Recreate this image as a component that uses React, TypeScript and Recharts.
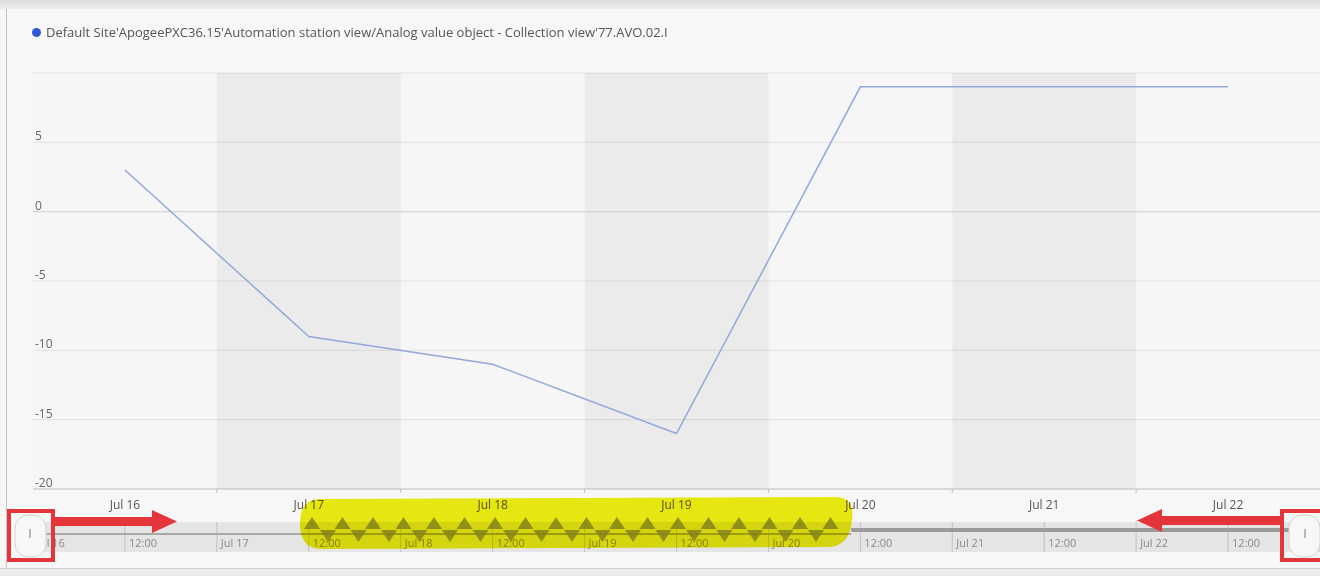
import React from 'react'
import {
  LineChart,
  Line,
  XAxis,
  YAxis,
  CartesianGrid,
  ReferenceArea,
  ReferenceLine,
  Legend,
} from 'recharts'

const SERIES_NAME =
  "Default Site'ApogeePXC36.15'Automation station view/Analog value object - Collection view'77.AVO.02.I"

// day index 0 = Jul 16 (12:00)
const DAYS = [0, 1, 2, 3, 4, 5, 6]
const DAY_LABELS = ['Jul 16', 'Jul 17', 'Jul 18', 'Jul 19', 'Jul 20', 'Jul 21', 'Jul 22']
const VALUES = [3, -9, -11, -16, 9, 9, 9]
const Y_TICKS = [-20, -15, -10, -5, 0, 5, 10]
const SHADED_DAYS = [1, 3, 5]
const DAY_BOUNDS = [0.5, 1.5, 2.5, 3.5, 4.5, 5.5]

const NAV_TICKS = [-0.5, 0, 0.5, 1, 1.5, 2, 2.5, 3, 3.5, 4, 4.5, 5, 5.5, 6]
const NAV_LABELS = [
  'Jul 16', '12:00', 'Jul 17', '12:00', 'Jul 18', '12:00', 'Jul 19',
  '12:00', 'Jul 20', '12:00', 'Jul 21', '12:00', 'Jul 22', '12:00',
]

const X_DOMAIN: [number, number] = [-0.5, 6.5]
const FONT = '"Open Sans", "Liberation Sans", sans-serif'

const data = DAYS.map((d, i) => ({ day: d, value: VALUES[i] }))
const mainTicks = [...DAYS, ...DAY_BOUNDS].sort((a, b) => a - b)

function MainXTick(props: any) {
  const { x, y, payload } = props
  const v = payload.value
  if (Number.isInteger(v)) {
    return (
      <text x={x} y={y + 20} textAnchor="middle" fontSize={12} fill="#555" fontFamily={FONT}>
        {DAY_LABELS[v]}
      </text>
    )
  }
  return <line x1={x} x2={x} y1={y} y2={y + 4} stroke="#bdbdbd" />
}

function YTick(props: any) {
  const { x, y, payload } = props
  if (payload.value === 10) return null
  return (
    <text x={x + 2} y={y - 2} fontSize={12} fill="#666" fontFamily={FONT}>
      {payload.value}
    </text>
  )
}

function NavTick(props: any) {
  const { x, y, payload } = props
  const i = NAV_TICKS.indexOf(payload.value)
  return (
    <text x={x + 4} y={y - 5} fontSize={11} fill="#8a8a8a" fontFamily={FONT}>
      {NAV_LABELS[i]}
    </text>
  )
}

function renderLegend() {
  return (
    <div
      style={{
        display: 'flex',
        alignItems: 'center',
        fontFamily: FONT,
        fontSize: 13,
        color: '#555',
        whiteSpace: 'nowrap',
      }}
    >
      <span
        style={{
          width: 9,
          height: 9,
          borderRadius: '50%',
          background: '#2d5bd3',
          display: 'inline-block',
          marginRight: 5,
        }}
      />
      {SERIES_NAME}
    </div>
  )
}

// hand-drawn markup on the screenshot (highlight, arrows, boxes)
function Annotations() {
  const ups: number[] = []
  const downs: number[] = []
  for (let k = 0; 312 + k * 30.5 < 850; k++) ups.push(312 + k * 30.5)
  for (let k = 0; 328 + k * 30.5 < 840; k++) downs.push(328 + k * 30.5)
  return (
    <svg
      width={1320}
      height={576}
      style={{ position: 'absolute', left: 0, top: 0, pointerEvents: 'none' }}
    >
      {/* navigator handles */}
      <rect x={15} y={515} width={31} height={42} rx={13} fill="#f7f7f7" stroke="#d4d4d4" />
      <line x1={30} x2={30} y1={529} y2={538} stroke="#b8b8b8" strokeWidth={2} />
      <rect x={1289} y={515} width={31} height={42} rx={13} fill="#f7f7f7" stroke="#d4d4d4" />
      <line x1={1305} x2={1305} y1={529} y2={538} stroke="#b8b8b8" strokeWidth={2} />

      {/* yellow highlight */}
      <path
        d="M318,499 L838,497 Q855,499 852,520 Q850,545 830,547 L320,549 Q300,548 300,524 Q300,500 318,499 Z"
        fill="#eeee10"
        style={{ mixBlendMode: 'multiply' }}
      />
      {ups.map((x) => (
        <polygon key={'u' + x} points={`${x - 8},529 ${x},517 ${x + 8},529`} fill="#84841a" opacity={0.85} />
      ))}
      {downs.map((x) => (
        <polygon key={'d' + x} points={`${x - 8},530 ${x},542 ${x + 8},530`} fill="#84841a" opacity={0.85} />
      ))}

      {/* red boxes */}
      <rect x={9} y={511} width={44} height={49} fill="none" stroke="#e4363a" strokeWidth={4} />
      <rect x={1282} y={511} width={44} height={49} fill="none" stroke="#e4363a" strokeWidth={4} />

      {/* arrows */}
      <rect x={55} y={517} width={99} height={9} fill="#e4363a" />
      <polygon points="152,510 177,521.5 152,533" fill="#e4363a" />
      <rect x={1160} y={516} width={122} height={9} fill="#e4363a" />
      <polygon points="1162,509 1137,520.5 1162,532" fill="#e4363a" />
    </svg>
  )
}

export default function App() {
  return (
    <div
      style={{
        position: 'relative',
        width: 1320,
        height: 576,
        background: '#f7f7f7',
        overflow: 'hidden',
        fontFamily: FONT,
      }}
    >
      <style>{'body{margin:0}'}</style>

      {/* window frame */}
      <div style={{ position: 'absolute', left: 0, top: 0, width: 1320, height: 9, background: 'linear-gradient(#dcdcdc, #ececec)' }} />
      <div style={{ position: 'absolute', left: 6, top: 9, width: 1, height: 560, background: '#c4c4c4' }} />
      <div style={{ position: 'absolute', left: 0, top: 568, width: 1320, height: 8, background: '#ececec', borderTop: '1px solid #cfcfcf' }} />

      <div style={{ position: 'absolute', left: 0, top: 0 }}>
        <LineChart width={1320} height={520} data={data} margin={{ top: 73, right: 0, bottom: 6, left: 0 }}>
          <Legend
            verticalAlign="middle"
            content={renderLegend}
            wrapperStyle={{ top: 23, left: 32, width: 1000, height: 16 }}
          />
          <CartesianGrid vertical={false} stroke="#e1e1e1" fill="#f6f6f6" fillOpacity={1} />
          {SHADED_DAYS.map((d) => (
            <ReferenceArea
              key={d}
              x1={d - 0.5}
              x2={d + 0.5}
              y1={-20}
              y2={10}
              fill="#000"
              fillOpacity={0.045}
              stroke="none"
              ifOverflow="visible"
            />
          ))}
          <ReferenceLine y={0} stroke="#d3d3d3" />
          <XAxis
            dataKey="day"
            type="number"
            domain={X_DOMAIN}
            ticks={mainTicks}
            interval={0}
            tick={<MainXTick />}
            tickSize={0}
            tickMargin={0}
            tickLine={false}
            axisLine={{ stroke: '#c6c6c6' }}
            height={25}
            allowDataOverflow
          />
          <YAxis
            type="number"
            domain={[-20, 10]}
            ticks={Y_TICKS}
            interval={0}
            width={33}
            tick={<YTick />}
            tickSize={0}
            tickMargin={0}
            axisLine={false}
            tickLine={false}
            allowDataOverflow
          />
          <Line
            type="linear"
            dataKey="value"
            name={SERIES_NAME}
            stroke="#93a9dc"
            strokeWidth={1.5}
            dot={false}
            activeDot={false}
            isAnimationActive={false}
          />
        </LineChart>
      </div>

      {/* navigator */}
      <div style={{ position: 'absolute', left: 0, top: 505 }}>
        <LineChart width={1320} height={60} data={data} margin={{ top: 17, right: 0, bottom: 12, left: 33 }}>
          <CartesianGrid horizontal={false} stroke="#c2c2c2" fill="#e5e5e5" fillOpacity={1} />
          <ReferenceLine
            segment={[{ x: -0.5, y: 0.6 }, { x: 3.95, y: 0.6 }]}
            stroke="#a8a8a8"
            strokeWidth={2}
            ifOverflow="visible"
          />
          <ReferenceLine
            segment={[{ x: 3.95, y: 0.73 }, { x: 6.5, y: 0.73 }]}
            stroke="#9a9a9a"
            strokeWidth={4}
            ifOverflow="visible"
          />
          <XAxis
            dataKey="day"
            type="number"
            domain={X_DOMAIN}
            ticks={NAV_TICKS}
            interval={0}
            tick={<NavTick />}
            tickSize={0}
            tickMargin={0}
            axisLine={false}
            tickLine={false}
            height={1}
            allowDataOverflow
          />
          <YAxis hide type="number" domain={[0, 1]} allowDataOverflow />
          <Line dataKey="value" stroke="none" dot={false} activeDot={false} isAnimationActive={false} />
        </LineChart>
      </div>

      <Annotations />
    </div>
  )
}
